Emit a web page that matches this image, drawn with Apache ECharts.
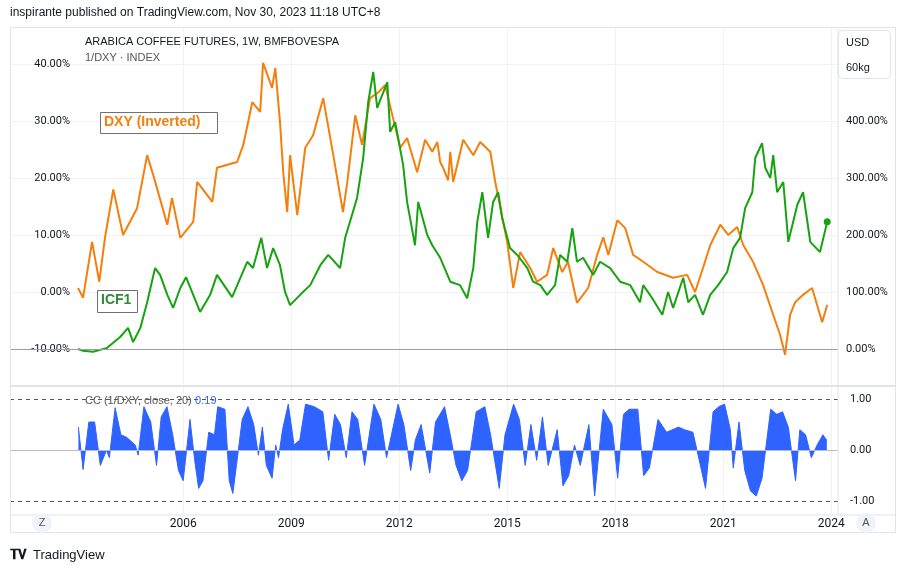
<!DOCTYPE html>
<html><head><meta charset="utf-8">
<script src="https://cdn.jsdelivr.net/npm/echarts@6/dist/echarts.min.js"></script>
<style>html,body{margin:0;padding:0;background:#fff}#c{width:905px;height:574px}</style>
</head><body><div id="c"></div>
<script>
const yearTicks=[2006,2009,2012,2015,2018,2021,2024];
const leftTicks=[-10,0,10,20,30,40];
const rightTicks=[0,100,200,300,400];
const ccTicks=[-1,0,1];
const dxyYears=[2003.08,2003.22,2003.47,2003.67,2003.83,2004.06,2004.33,2004.72,2005.0,2005.17,2005.56,2005.69,2005.92,2006.28,2006.39,2006.81,2006.94,2007.5,2007.67,2007.92,2008.14,2008.22,2008.47,2008.56,2008.69,2008.78,2008.89,2008.97,2009.17,2009.39,2009.61,2009.89,2010.17,2010.44,2010.56,2010.78,2010.97,2011.19,2011.42,2011.61,2011.83,2012.03,2012.22,2012.5,2012.72,2012.92,2013.06,2013.14,2013.22,2013.36,2013.42,2013.5,2013.78,2014.06,2014.25,2014.53,2014.67,2015.0,2015.17,2015.36,2015.64,2015.83,2016.11,2016.28,2016.53,2016.69,2016.94,2017.25,2017.5,2017.67,2017.81,2018.06,2018.28,2018.5,2018.78,2019.17,2019.61,2020.0,2020.22,2020.44,2020.64,2020.92,2021.14,2021.39,2021.56,2021.83,2022.11,2022.39,2022.58,2022.72,2022.86,2023.0,2023.22,2023.47,2023.75,2023.89];
const dxyVals=[0.7,-1,8.8,1.8,9.6,18,10,14.7,24,20.5,11.8,16.5,9.5,12.3,19.3,15.8,21.8,22.8,25.8,33.3,31.6,40.2,35.8,39.3,29.8,21,14,24,13.5,25.3,27.5,34,24,14,19.3,31,25.8,34,35,36.3,30.5,25.3,27,21,26.7,24.6,26.3,22.8,21.8,19.6,24.6,19.3,26.7,24,26.3,24.6,19.3,8.8,0.7,7,4.2,1.8,3,7.7,3.5,5.3,-1.9,0.7,6.5,9.6,6.5,12.6,11.2,6.5,5.3,3.5,2.5,3,0,4.2,8.2,11.8,10,11.4,8.2,5.3,1.2,-4,-7.5,-11,-4,-1.8,-0.5,0.7,-5.3,-2.3];
const icfYears=[2003.08,2003.22,2003.5,2003.89,2004.25,2004.47,2004.61,2004.81,2005.0,2005.22,2005.36,2005.56,2005.72,2005.92,2006.08,2006.47,2006.75,2006.94,2007.36,2007.78,2007.94,2008.17,2008.33,2008.5,2008.69,2008.83,2008.97,2009.25,2009.53,2009.81,2010.03,2010.36,2010.5,2010.69,2010.83,2011.0,2011.14,2011.28,2011.39,2011.67,2011.75,2011.89,2012.11,2012.22,2012.44,2012.53,2012.78,2012.92,2013.14,2013.42,2013.69,2013.89,2014.06,2014.17,2014.31,2014.47,2014.61,2014.75,2014.86,2015.08,2015.28,2015.56,2015.72,2015.92,2016.11,2016.33,2016.47,2016.67,2016.81,2016.94,2017.11,2017.39,2017.58,2017.86,2018.14,2018.42,2018.69,2018.78,2019.03,2019.31,2019.47,2019.61,2019.89,2020.03,2020.22,2020.44,2020.64,2020.86,2021.11,2021.28,2021.47,2021.61,2021.81,2021.89,2022.08,2022.17,2022.31,2022.39,2022.5,2022.67,2022.81,2023.06,2023.22,2023.42,2023.69,2023.89];
const icfVals=[0,-3,-5,2,21,37,12,37,82,142,130,95,72,107,126,65,95,130,91,153,142,195,142,177,147,100,77,95,112,147,165,142,195,235,265,335,433,486,423,468,381,398,323,258,182,258,200,182,160,118,112,89,142,223,275,195,258,275,230,177,165,142,118,112,95,112,165,153,212,153,160,130,153,142,118,112,82,112,89,60,100,72,125,82,95,60,95,112,135,177,195,247,275,335,361,318,300,340,275,293,188,253,275,188,170,223];
const ccYears=[2003.09,2003.22,2003.38,2003.54,2003.70,2003.87,2003.95,2004.11,2004.27,2004.43,2004.67,2004.75,2004.91,2005.10,2005.26,2005.39,2005.55,2005.71,2005.87,2006.00,2006.19,2006.32,2006.43,2006.55,2006.71,2006.87,2006.96,2007.16,2007.28,2007.38,2007.48,2007.64,2007.80,2007.96,2008.09,2008.20,2008.31,2008.47,2008.57,2008.65,2008.76,2008.92,2009.08,2009.24,2009.40,2009.64,2009.88,2010.04,2010.21,2010.37,2010.53,2010.69,2010.85,2011.04,2011.30,2011.49,2011.65,2011.97,2012.13,2012.32,2012.45,2012.61,2012.85,2013.01,2013.26,2013.42,2013.58,2013.74,2013.90,2014.14,2014.38,2014.54,2014.78,2014.94,2015.18,2015.34,2015.50,2015.66,2015.82,2015.98,2016.14,2016.39,2016.55,2016.71,2016.87,2017.03,2017.27,2017.43,2017.67,2017.91,2018.07,2018.23,2018.39,2018.63,2018.79,2018.95,2019.19,2019.43,2019.76,2019.92,2020.16,2020.40,2020.51,2020.72,2020.88,2021.04,2021.20,2021.28,2021.44,2021.60,2021.76,2021.92,2022.08,2022.32,2022.49,2022.65,2022.81,2023.01,2023.13,2023.29,2023.45,2023.61,2023.77,2023.88];
const ccVals=[0.45,-0.38,0.55,0.55,-0.3,0.0,-0.15,0.83,0.3,0.25,0.1,-0.1,0.85,0.55,-0.3,0.65,0.85,0.3,-0.4,-0.6,0.6,-0.2,-0.75,-0.6,0.35,0.3,0.85,0.8,-0.6,-0.85,-0.3,0.6,0.85,0.5,-0.1,0.45,-0.3,-0.55,0.1,-0.15,0.4,0.9,0.1,0.2,0.9,0.85,0.75,-0.2,0.7,0.5,-0.15,0.75,0.6,-0.3,0.9,0.6,-0.15,0.9,0.5,-0.4,0.2,0.5,-0.45,0.55,0.85,0.3,-0.3,-0.6,-0.4,0.75,0.85,0.3,-0.75,0.3,0.9,0.6,-0.3,0.5,-0.2,0.65,-0.3,0.4,-0.7,-0.5,0.1,-0.3,0.5,-0.9,0.8,0.5,-0.55,0.7,0.8,0.8,-0.5,-0.35,0.6,0.35,0.45,0.4,0.35,-0.4,-0.75,0.75,0.85,0.9,0.4,-0.35,0.55,-0.4,-0.8,-0.9,-0.55,0.8,0.7,0.75,0.45,-0.6,0.4,0.3,-0.15,0.1,0.3,0.19];

const zip=(a,b)=>a.map((x,i)=>[x,b[i]]);
const ORANGE='#f57f0c',GREEN='#16a30f',BLUE='#2f63ff',TXT='#131722',GRID='#f0f2f5';
const XMIN=2001.19,XMAX=2024.19;
const chart=echarts.init(document.getElementById('c'));
const xAx=(i,showLabel)=>({gridIndex:i,type:'value',min:XMIN,max:XMAX,axisLine:{show:false},
  axisTick:{show:false,customValues:yearTicks},
  splitLine:{show:true,lineStyle:{color:GRID}},
  axisLabel:{show:showLabel,customValues:yearTicks,color:TXT,fontSize:12,margin:3,formatter:v=>String(v)}});
chart.setOption({
  animation:false,
  textStyle:{fontFamily:'Roboto, "Liberation Sans", sans-serif'},
  grid:[{left:10,right:67,top:27,height:358,outerBoundsMode:'none',containLabel:false},
        {left:10,right:67,top:387,height:128,outerBoundsMode:'none',containLabel:false}],
  xAxis:[xAx(0,false),xAx(1,true)],
  yAxis:[
    {gridIndex:0,type:'value',position:'left',min:-16.32,max:46.49,axisLine:{show:false},axisTick:{show:false,customValues:leftTicks},
     splitLine:{show:true,lineStyle:{color:GRID}},
     axisLabel:{inside:true,customValues:leftTicks,color:TXT,fontSize:11,margin:60,align:'right',formatter:v=>v.toFixed(2)+'%'}},
    {gridIndex:0,type:'value',position:'right',min:-63.2,max:564.9,axisLine:{show:false},axisTick:{show:false,customValues:rightTicks},
     splitLine:{show:false},axisLabel:{customValues:rightTicks,color:TXT,fontSize:11,margin:8,formatter:v=>v.toFixed(2)+'%'}},
    {gridIndex:1,type:'value',position:'right',min:-1.27,max:1.235,axisLine:{show:false},axisTick:{show:false,customValues:ccTicks},
     splitLine:{show:false},axisLabel:{customValues:ccTicks,color:TXT,fontSize:11,margin:12,formatter:v=>v.toFixed(2)}}
  ],
  series:[
    {type:'line',xAxisIndex:0,yAxisIndex:1,data:zip(icfYears,icfVals),showSymbol:false,lineStyle:{color:GREEN,width:2},z:3,
     markLine:{silent:true,symbol:'none',label:{show:false},lineStyle:{color:'#a09bb5',type:'solid',width:1},data:[{yAxis:0}]},
     markPoint:{symbol:'circle',symbolSize:7,itemStyle:{color:GREEN},label:{show:false},data:[{coord:[icfYears[icfYears.length-1],icfVals[icfVals.length-1]]}]}},
    {type:'line',xAxisIndex:0,yAxisIndex:0,data:zip(dxyYears,dxyVals),showSymbol:false,lineStyle:{color:ORANGE,width:2},z:2},
    {type:'line',xAxisIndex:1,yAxisIndex:2,data:zip(ccYears,ccVals),showSymbol:false,lineStyle:{color:BLUE,width:1},
     areaStyle:{color:BLUE,opacity:1,origin:0},
     markLine:{silent:true,symbol:'none',label:{show:false},data:[
       {yAxis:1,lineStyle:{color:'#555',type:[4,4],width:1}},
       {yAxis:-1,lineStyle:{color:'#555',type:[4,4],width:1}},
       {yAxis:0,lineStyle:{color:'#b8bcc8',type:'solid',width:1}}]}}
  ],
  graphic:[
    {type:'rect',z:100,shape:{x:10.5,y:27.5,width:885,height:505},style:{fill:'none',stroke:'#e0e3eb',lineWidth:1},silent:true},
    {type:'line',z:100,shape:{x1:10,y1:386,x2:895,y2:386},style:{stroke:'#e0e3eb',lineWidth:2}},
    {type:'line',z:100,shape:{x1:838,y1:27,x2:838,y2:515},style:{stroke:'#e0e3eb',lineWidth:1}},
    {type:'line',z:100,shape:{x1:10,y1:515,x2:895,y2:515},style:{stroke:'#e0e3eb',lineWidth:1}},
    {type:'text',z:100,left:10,top:7,style:{text:'inspirante published on TradingView.com, Nov 30, 2023 11:18 UTC+8',fill:TXT,fontSize:12}},
    {type:'text',z:100,left:85,top:36,style:{text:'ARABICA COFFEE FUTURES, 1W, BMFBOVESPA',fill:TXT,fontSize:11}},
    {type:'text',z:100,left:85,top:52,style:{text:'1/DXY · INDEX',fill:'#555',fontSize:11}},
    {type:'rect',z:100,shape:{x:100.5,y:112.5,width:117,height:21},style:{fill:'#fff',stroke:'#707070',lineWidth:1}},
    {type:'text',z:101,left:104,top:115,style:{text:'DXY (Inverted)',fill:ORANGE,fontSize:14,fontWeight:'bold'}},
    {type:'rect',z:100,shape:{x:97.5,y:290.5,width:40,height:22},style:{fill:'#fff',stroke:'#707070',lineWidth:1}},
    {type:'text',z:101,left:101,top:293,style:{text:'ICF1',fill:'#2e8b3a',fontSize:14,fontWeight:'bold'}},
    {type:'rect',z:100,shape:{x:838.5,y:30.5,width:52,height:48,r:4},style:{fill:'#fff',stroke:'#e0e3eb'}},
    {type:'text',z:101,left:846,top:37,style:{text:'USD',fill:TXT,fontSize:11}},
    {type:'text',z:101,left:846,top:62,style:{text:'60kg',fill:TXT,fontSize:11}},
    {type:'text',z:101,left:85,top:395,style:{rich:{a:{fill:'#555',fontSize:11},b:{fill:BLUE,fontSize:11}},text:'{a|CC (1/DXY, close, 20)} {b|0.19}'}},
    {type:'circle',z:100,shape:{cx:42,cy:523,r:10},style:{fill:'#f0f3fa'}},
    {type:'text',z:101,x:42,y:523,style:{text:'Z',fill:'#555',fontSize:11,align:'center',verticalAlign:'middle'}},
    {type:'circle',z:100,shape:{cx:866,cy:523,r:10},style:{fill:'#f0f3fa'}},
    {type:'text',z:101,x:866,y:523,style:{text:'A',fill:'#555',fontSize:11,align:'center',verticalAlign:'middle'}},
    {type:'text',z:100,left:10,top:549,style:{text:'𝐓𝐕',fill:TXT,fontSize:13,fontWeight:'bold'}},
    {type:'text',z:100,left:33,top:549,style:{text:'TradingView',fill:TXT,fontSize:13}}
  ]
});
</script></body></html>
